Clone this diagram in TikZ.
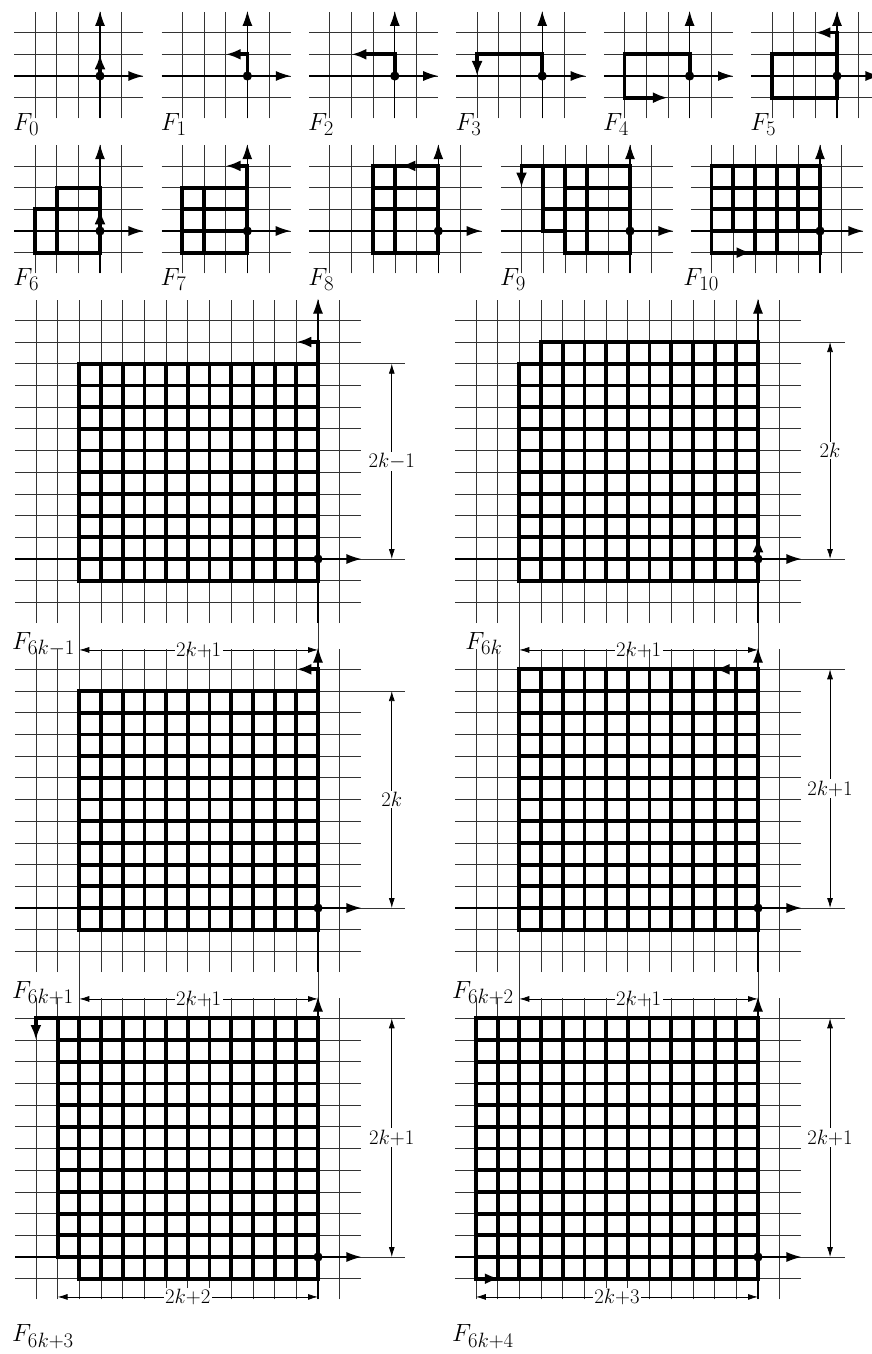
\documentclass[tikz,border=0pt]{standalone}
\usetikzlibrary{arrows.meta}
\tikzset{
  gl/.style={line width=0.75pt, black!80},
  ax/.style={line width=1.2pt, black, -{Latex[length=15pt,width=10pt]}},
  thk/.style={line width=3.8pt, black, line cap=rect},
  tha/.style={line width=3.8pt, black, -{Latex[length=15pt,width=11pt]}},
  lbl/.style={anchor=base west, inner sep=0pt, font=\fontsize{24.88}{30}\selectfont},
  dimtxt/.style={fill=white, inner sep=1.5pt, font=\fontsize{20.74}{25}\selectfont},
  dimln/.style={line width=0.75pt, {Latex[length=10pt,width=6pt]}-{Latex[length=10pt,width=6pt]}},
}
\newcommand\pgrid[4]{%
  \foreach \i in {#1,...,#2} \draw[gl] (\i,#3-0.95) -- (\i,#4+0.95);
  \foreach \j in {#3,...,#4} \draw[gl] (#1-0.95,\j) -- (#2+1,\j);
  \draw[ax] (0,#3-0.95) -- (0,#4+1);
  \draw[ax] (#1-0.95,0) -- (#2+1,0);
}
\newcommand\tgrid[4]{%
  \foreach \i in {#1,...,#2} \draw[thk] (\i,#3) -- (\i,#4);
  \foreach \j in {#3,...,#4} \draw[thk] (#1,\j) -- (#2,\j);
}
\newcommand\odt{\fill (0,0) circle (4.6pt);}
\begin{document}
\begin{tikzpicture}[x=1pt,y=-1pt]
\useasboundingbox (0,0) rectangle (872,1354);
% ---------- row 1 ----------
\begin{scope}[shift={(100,76)},x=21.7pt,y=21.7pt]
  \pgrid{-3}{1}{-1}{2}
  \draw[tha] (0,0) -- (0,1);
  \odt
  \node[lbl] (f0) at (-4,-2.53) {$F_0$};
\end{scope}
\begin{scope}[shift={(247.4,76)},x=21.7pt,y=21.7pt]
  \pgrid{-3}{1}{-1}{2}
  \draw[tha] (0,0) -- (0,1) -- (-1,1);
  \odt
  \node[lbl] (f1) at (-4,-2.53) {$F_1$};
\end{scope}
\begin{scope}[shift={(394.8,76)},x=21.7pt,y=21.7pt]
  \pgrid{-3}{1}{-1}{2}
  \draw[tha] (0,0) -- (0,1) -- (-2,1);
  \odt
  \node[lbl] (f2) at (-4,-2.53) {$F_2$};
\end{scope}
\begin{scope}[shift={(542.2,76)},x=21.7pt,y=21.7pt]
  \pgrid{-3}{1}{-1}{2}
  \draw[tha] (0,0) -- (0,1) -- (-3,1) -- (-3,0);
  \odt
  \node[lbl] (f3) at (-4,-2.53) {$F_3$};
\end{scope}
\begin{scope}[shift={(689.6,76)},x=21.7pt,y=21.7pt]
  \pgrid{-3}{1}{-1}{2}
  \draw[tha] (0,0) -- (0,1) -- (-3,1) -- (-3,-1) -- (-1,-1);
  \odt
  \node[lbl] (f4) at (-4,-2.53) {$F_4$};
\end{scope}
\begin{scope}[shift={(837,76)},x=21.7pt,y=21.7pt]
  \pgrid{-3}{1}{-1}{2}
  \draw[thk] (-3,-1) rectangle (0,1);
  \draw[tha] (0,-1) -- (0,2) -- (-1,2);
  \odt
  \node[lbl] (f5) at (-4,-2.53) {$F_5$};
\end{scope}
% ---------- row 2 ----------
\begin{scope}[shift={(100,231)},x=21.7pt,y=21.7pt]
  \pgrid{-3}{1}{-1}{3}
  \draw[thk] (-3,-1) -- (0,-1) (-3,-1) -- (-3,1) -- (0,1) (0,-1) -- (0,2) -- (-2,2) -- (-2,-1);
  \draw[tha] (0,0) -- (0,1);
  \odt
  \node[lbl] (f6) at (-4,-2.53) {$F_6$};
\end{scope}
\begin{scope}[shift={(247.3,231)},x=21.7pt,y=21.7pt]
  \pgrid{-3}{1}{-1}{3}
  \foreach \j in {-1,0,1,2} \draw[thk] (-3,\j) -- (0,\j);
  \draw[thk] (-3,-1) -- (-3,2) (-2,-1) -- (-2,2);
  \draw[tha] (0,-1) -- (0,3) -- (-1,3);
  \odt
  \node[lbl] (f7) at (-4,-2.53) {$F_7$};
\end{scope}
\begin{scope}[shift={(438.3,231)},x=21.7pt,y=21.7pt]
  \pgrid{-5}{1}{-1}{3}
  \foreach \j in {-1,1,2,3} \draw[thk] (-3,\j) -- (0,\j);
  \draw[thk] (-3,-1) -- (-3,3) (-2,-1) -- (-2,3) (0,-1) -- (0,3);
  \draw[tha] (0,3) -- (-1.75,3);
  \odt
  \node[lbl] (f8) at (-6,-2.53) {$F_8$};
\end{scope}
\begin{scope}[shift={(630,231)},x=21.7pt,y=21.7pt]
  \pgrid{-5}{1}{-1}{3}
  \draw[thk] (-4,0) -- (-4,3) (-4,0) -- (-3,0) (-4,1) -- (0,1) (-3,2) -- (0,2) (-3,-1) -- (0,-1);
  \draw[thk] (-3,-1) -- (-3,3) (-2,-1) -- (-2,3) (0,-1) -- (0,3);
  \draw[tha] (0,3) -- (-5,3) -- (-5,2);
  \odt
  \node[lbl] (f9) at (-6,-2.53) {$F_9$};
\end{scope}
\begin{scope}[shift={(820,231)},x=21.7pt,y=21.7pt]
  \pgrid{-5}{1}{-1}{3}
  \foreach \j in {-1,0,1,2,3} \draw[thk] (-5,\j) -- (0,\j);
  \draw[thk] (-5,-1) -- (-5,3) (-4,0) -- (-4,3) (-3,-1) -- (-3,3) (-2,-1) -- (-2,3) (-1,0) -- (-1,3) (0,-1) -- (0,3);
  \draw[tha] (-5,-1) -- (-3.15,-1);
  \odt
  \node[lbl] (f10) at (-6.3,-2.53) {$F_{10}$};
\end{scope}
% ---------- big panels ----------
\begin{scope}[shift={(318,559)},x=21.7pt,y=21.7pt]
  \pgrid{-13}{1}{-2}{11}
  \tgrid{-11}{0}{-1}{9}
  \draw[tha] (0,9) -- (0,10) -- (-1,10);
  \odt
  \draw[gl] (2,0) -- (4,0) (1,9) -- (4,9) (-11,-2.95) -- (-11,-4.6) (0,-2.95) -- (0,-4.6);
  \draw[dimln] (3.4,0) -- (3.4,9);
  \node[dimtxt] (d1v) at (3.4,4.5) {$2k{-}1$};
  \draw[dimln] (-11,-4.19) -- (0,-4.19);
  \node[dimtxt] (d1h) at (-5.5,-4.19) {$2k{+}1$};
  \node[lbl] (f6km1) at (-14.1,-4.15) {$F_{6k-1}$};
\end{scope}
\begin{scope}[shift={(758,559)},x=21.7pt,y=21.7pt]
  \pgrid{-13}{1}{-2}{11}
  \tgrid{-11}{0}{-1}{9}
  \draw[thk] (-10,10) -- (0,10);
  \foreach \i in {-10,...,0} \draw[thk] (\i,9) -- (\i,10);
  \draw[tha] (0,0) -- (0,1);
  \odt
  \draw[gl] (2,0) -- (4,0) (1,10) -- (4,10) (-11,-2.95) -- (-11,-4.6) (0,-2.95) -- (0,-4.6);
  \draw[dimln] (3.32,0) -- (3.32,10);
  \node[dimtxt] (d2v) at (3.32,5) {$2k$};
  \draw[dimln] (-11,-4.19) -- (0,-4.19);
  \node[dimtxt] (d2h) at (-5.5,-4.19) {$2k{+}1$};
  \node[lbl] (f6k) at (-13.5,-4.15) {$F_{6k}$};
\end{scope}
\begin{scope}[shift={(318,908)},x=21.7pt,y=21.7pt]
  \pgrid{-13}{1}{-2}{11}
  \tgrid{-11}{0}{-1}{10}
  \draw[tha] (0,10) -- (0,11) -- (-1,11);
  \odt
  \draw[gl] (2,0) -- (4,0) (1,10) -- (4,10) (-11,-2.95) -- (-11,-4.6) (0,-2.95) -- (0,-4.6);
  \draw[dimln] (3.4,0) -- (3.4,10);
  \node[dimtxt] (d3v) at (3.4,5) {$2k$};
  \draw[dimln] (-11,-4.19) -- (0,-4.19);
  \node[dimtxt] (d3h) at (-5.5,-4.19) {$2k{+}1$};
  \node[lbl] (f6k1) at (-14.1,-4.15) {$F_{6k+1}$};
\end{scope}
\begin{scope}[shift={(758,908)},x=21.7pt,y=21.7pt]
  \pgrid{-13}{1}{-2}{11}
  \tgrid{-11}{0}{-1}{11}
  \draw[tha] (0,11) -- (-2,11);
  \odt
  \draw[gl] (2,0) -- (4,0) (1,11) -- (4,11) (-11,-2.95) -- (-11,-4.6) (0,-2.95) -- (0,-4.6);
  \draw[dimln] (3.32,0) -- (3.32,11);
  \node[dimtxt] (d4v) at (3.32,5.5) {$2k{+}1$};
  \draw[dimln] (-11,-4.19) -- (0,-4.19);
  \node[dimtxt] (d4h) at (-5.5,-4.19) {$2k{+}1$};
  \node[lbl] (f6k2) at (-14.1,-4.15) {$F_{6k+2}$};
\end{scope}
\begin{scope}[shift={(318,1257)},x=21.7pt,y=21.7pt]
  \pgrid{-13}{1}{-1}{11}
  \tgrid{-11}{0}{-1}{11}
  \foreach \j in {0,...,11} \draw[thk] (-12,\j) -- (-11,\j);
  \draw[thk] (-12,0) -- (-12,11);
  \draw[tha] (-12,11) -- (-13,11) -- (-13,10);
  \odt
  \draw[gl] (2,0) -- (4,0) (1,11) -- (4,11);
  \draw[dimln] (3.4,0) -- (3.4,11);
  \node[dimtxt] (d5v) at (3.4,5.5) {$2k{+}1$};
  \draw[dimln] (-12,-1.84) -- (0,-1.84);
  \node[dimtxt] (d5h) at (-6,-1.84) {$2k{+}2$};
  \node[lbl] (f6k3) at (-14.1,-3.9) {$F_{6k+3}$};
\end{scope}
\begin{scope}[shift={(758,1257)},x=21.7pt,y=21.7pt]
  \pgrid{-13}{1}{-1}{11}
  \tgrid{-13}{0}{-1}{11}
  \draw[tha] (-13,-1) -- (-11.9,-1);
  \odt
  \draw[gl] (2,0) -- (4,0) (1,11) -- (4,11);
  \draw[dimln] (3.32,0) -- (3.32,11);
  \node[dimtxt] (d6v) at (3.32,5.5) {$2k{+}1$};
  \draw[dimln] (-13,-1.84) -- (0,-1.84);
  \node[dimtxt] (d6h) at (-6.5,-1.84) {$2k{+}3$};
  \node[lbl] (f6k4) at (-14.1,-3.9) {$F_{6k+4}$};
\end{scope}
\end{tikzpicture}
\end{document}
